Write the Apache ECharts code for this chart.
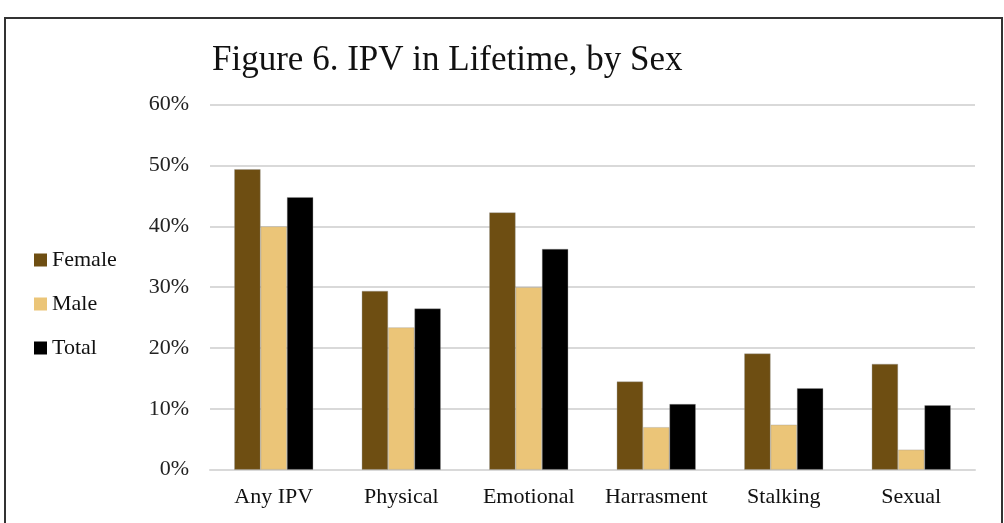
<!DOCTYPE html>
<html>
<head>
<meta charset="utf-8">
<script src="https://cdn.jsdelivr.net/npm/echarts@6/dist/echarts.min.js"></script>
<style>
  html, body { margin: 0; padding: 0; background: #fff; }
  #chart { width: 1004px; height: 523px; }
</style>
</head>
<body>
<div id="chart"></div>
<script>
// data (percent)
const categories = ['Any IPV', 'Physical', 'Emotional', 'Harrasment', 'Stalking', 'Sexual'];
const female = [49.4, 29.4, 42.3, 14.5, 19.1, 17.4];
const male = [40.0, 23.4, 30.0, 7.0, 7.4, 3.3];
const total = [44.8, 26.5, 36.3, 10.8, 13.4, 10.6];

const serif = '"Liberation Serif", "DejaVu Serif", serif';
const chart = echarts.init(document.getElementById('chart'));

function bar(name, data, color) {
  return {
    name: name,
    type: 'bar',
    data: data,
    barGap: '0%',
    barCategoryGap: '38%',
    itemStyle: { color: color, borderColor: 'rgba(150,150,150,0.6)', borderWidth: 0.6 }
  };
}

let option = {
  animation: false,
  title: {
    text: 'Figure 6. IPV in Lifetime, by Sex',
    left: 207,
    top: 38,
    textStyle: { fontFamily: serif, fontSize: 35, fontWeight: 'normal', color: '#111' }
  },
  legend: {
    orient: 'vertical',
    left: 34,
    top: 249,
    padding: 0,
    itemWidth: 13,
    itemHeight: 13,
    itemGap: 22,
    icon: 'rect',
    itemStyle: { borderWidth: 0 },
    textStyle: { fontFamily: serif, fontSize: 22, lineHeight: 20, color: '#111' },
    data: ['Female', 'Male', 'Total']
  },
  grid: { left: 210, right: 29, top: 104.7, bottom: 53.3 },
  xAxis: {
    type: 'category',
    data: categories,
    axisTick: { show: false },
    axisLine: { lineStyle: { color: '#d9d9d9', width: 2 } },
    axisLabel: { interval: 0, fontFamily: serif, fontSize: 22, color: '#111', margin: 17 }
  },
  yAxis: {
    type: 'value',
    min: 0,
    max: 60,
    interval: 10,
    axisLine: { show: false },
    axisTick: { show: false },
    splitLine: { lineStyle: { color: '#d9d9d9', width: 2 } },
    axisLabel: { fontFamily: serif, fontSize: 22, color: '#222', margin: 21, formatter: '{value}%' }
  },
  graphic: [{
    type: 'rect',
    shape: { x: 5, y: 18, width: 997, height: 530 },
    style: { fill: 'none', stroke: '#333', lineWidth: 2 },
    silent: true
  }],
  series: [
    bar('Female', female, '#6e4e12'),
    bar('Male', male, '#ebc578'),
    bar('Total', total, '#000000')
  ]
};
chart.setOption(option);
</script>
</body>
</html>
